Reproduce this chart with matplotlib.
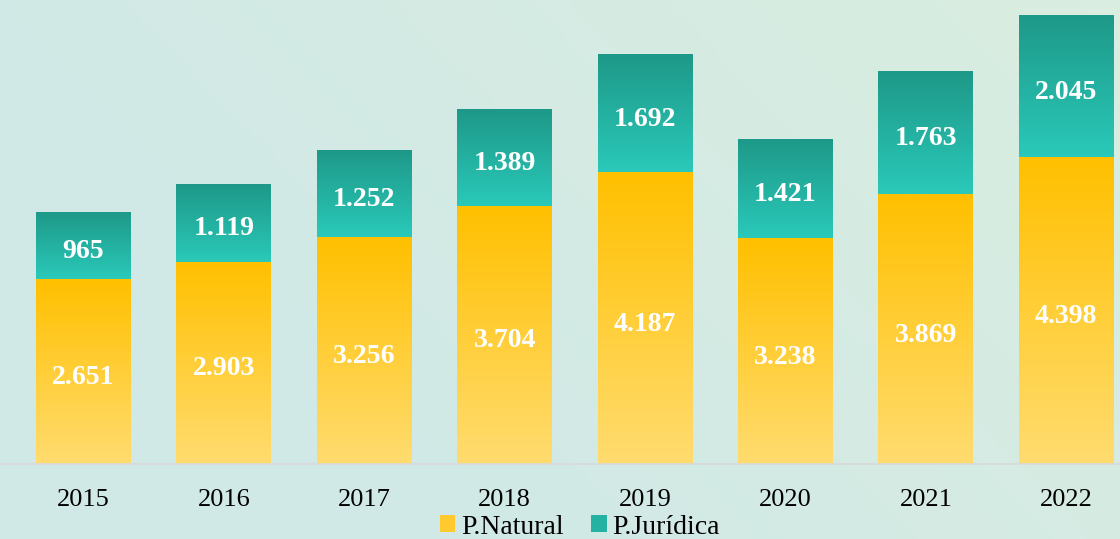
import numpy as np
import matplotlib.pyplot as plt
from matplotlib.colors import LinearSegmentedColormap
from matplotlib.patches import Patch

# --- data ---------------------------------------------
years = ['2015', '2016', '2017', '2018', '2019', '2020', '2021', '2022']
natural = [2651, 2903, 3256, 3704, 4187, 3238, 3869, 4398]
juridica = [965, 1119, 1252, 1389, 1692, 1421, 1763, 2045]

plt.rcParams['font.family'] = ['Liberation Serif', 'DejaVu Serif']

fig = plt.figure(figsize=(11.2, 5.39), dpi=100)

# background gradient (teal left -> pale green top right)
bg = fig.add_axes([0, 0, 1, 1])
bg.set_axis_off()
gx, gy = np.meshgrid(np.linspace(0, 1, 200), np.linspace(0, 1, 100))
t = np.clip(0.75 * gx + 0.35 * (1 - gy) - 0.35, 0, 1)
c0 = np.array([0.820, 0.914, 0.902])
c1 = np.array([0.863, 0.937, 0.871])
img = c0[None, None, :] * (1 - t[..., None]) + c1[None, None, :] * t[..., None]
bg.imshow(img, aspect='auto', extent=[0, 1, 0, 1], origin='upper')
bg.set_xlim(0, 1); bg.set_ylim(0, 1)

# main axes: baseline at pixel 464, top at pixel 0
y0 = (539 - 464) / 539
ax = fig.add_axes([0, y0, 1, 1 - y0])
ax.patch.set_alpha(0)
x = np.arange(len(years))
step = 140.4
xl = (-83.5 / step, (1120 - 83.5) / step)
yl = (0, 464 / 0.0697)

w = 95 / step
b1 = ax.bar(x, natural, width=w, color='none', linewidth=0)
b2 = ax.bar(x, juridica, width=w, bottom=natural, color='none', linewidth=0)

cm_nat = LinearSegmentedColormap.from_list('nat', ['#ffdc70', '#ffc000'])
cm_jur = LinearSegmentedColormap.from_list('jur', ['#2ac9b9', '#1e9888'])
grad = np.linspace(0, 1, 256)[:, None]

def fill_grad(bars, cmap):
    for p in bars:
        x0, yb = p.get_x(), p.get_y()
        im = ax.imshow(grad, cmap=cmap, aspect='auto', origin='lower',
                       extent=[x0, x0 + p.get_width(), yb, yb + p.get_height()],
                       zorder=2)
        im.set_clip_path(p)

fill_grad(b1, cm_nat)
fill_grad(b2, cm_jur)
ax.set_xlim(*xl)
ax.set_ylim(*yl)

def fmt(v):
    return f'{v:,}'.replace(',', '.')

for i in range(len(years)):
    for yc, v in [(natural[i] / 2, natural[i]),
                  (natural[i] + juridica[i] / 2, juridica[i])]:
        ax.annotate(fmt(v), (x[i], yc), xytext=(0, -6), textcoords='offset pixels',
                    ha='center', va='center', color='white', fontsize=20,
                    fontweight='bold', zorder=3)

for s in ['top', 'right', 'left']:
    ax.spines[s].set_visible(False)
ax.spines['bottom'].set_color('#d9d9d9')
ax.spines['bottom'].set_linewidth(1.2)
ax.set_yticks([])
ax.set_xticks(x)
ax.set_xticklabels(years, fontsize=19)
ax.tick_params(axis='x', length=0, pad=18)

handles = [Patch(facecolor='#ffca30', edgecolor='none', label='P.Natural'),
           Patch(facecolor='#24b3a3', edgecolor='none', label='P.Jurídica')]
fig.legend(handles=handles, loc='center', bbox_to_anchor=(580 / 1120, 1 - 527 / 539),
           ncol=2, frameon=False, fontsize=20, handlelength=0.55, handleheight=0.55,
           handletextpad=0.2, columnspacing=1.0, borderpad=0)

fig.savefig('out.png', dpi=100)
